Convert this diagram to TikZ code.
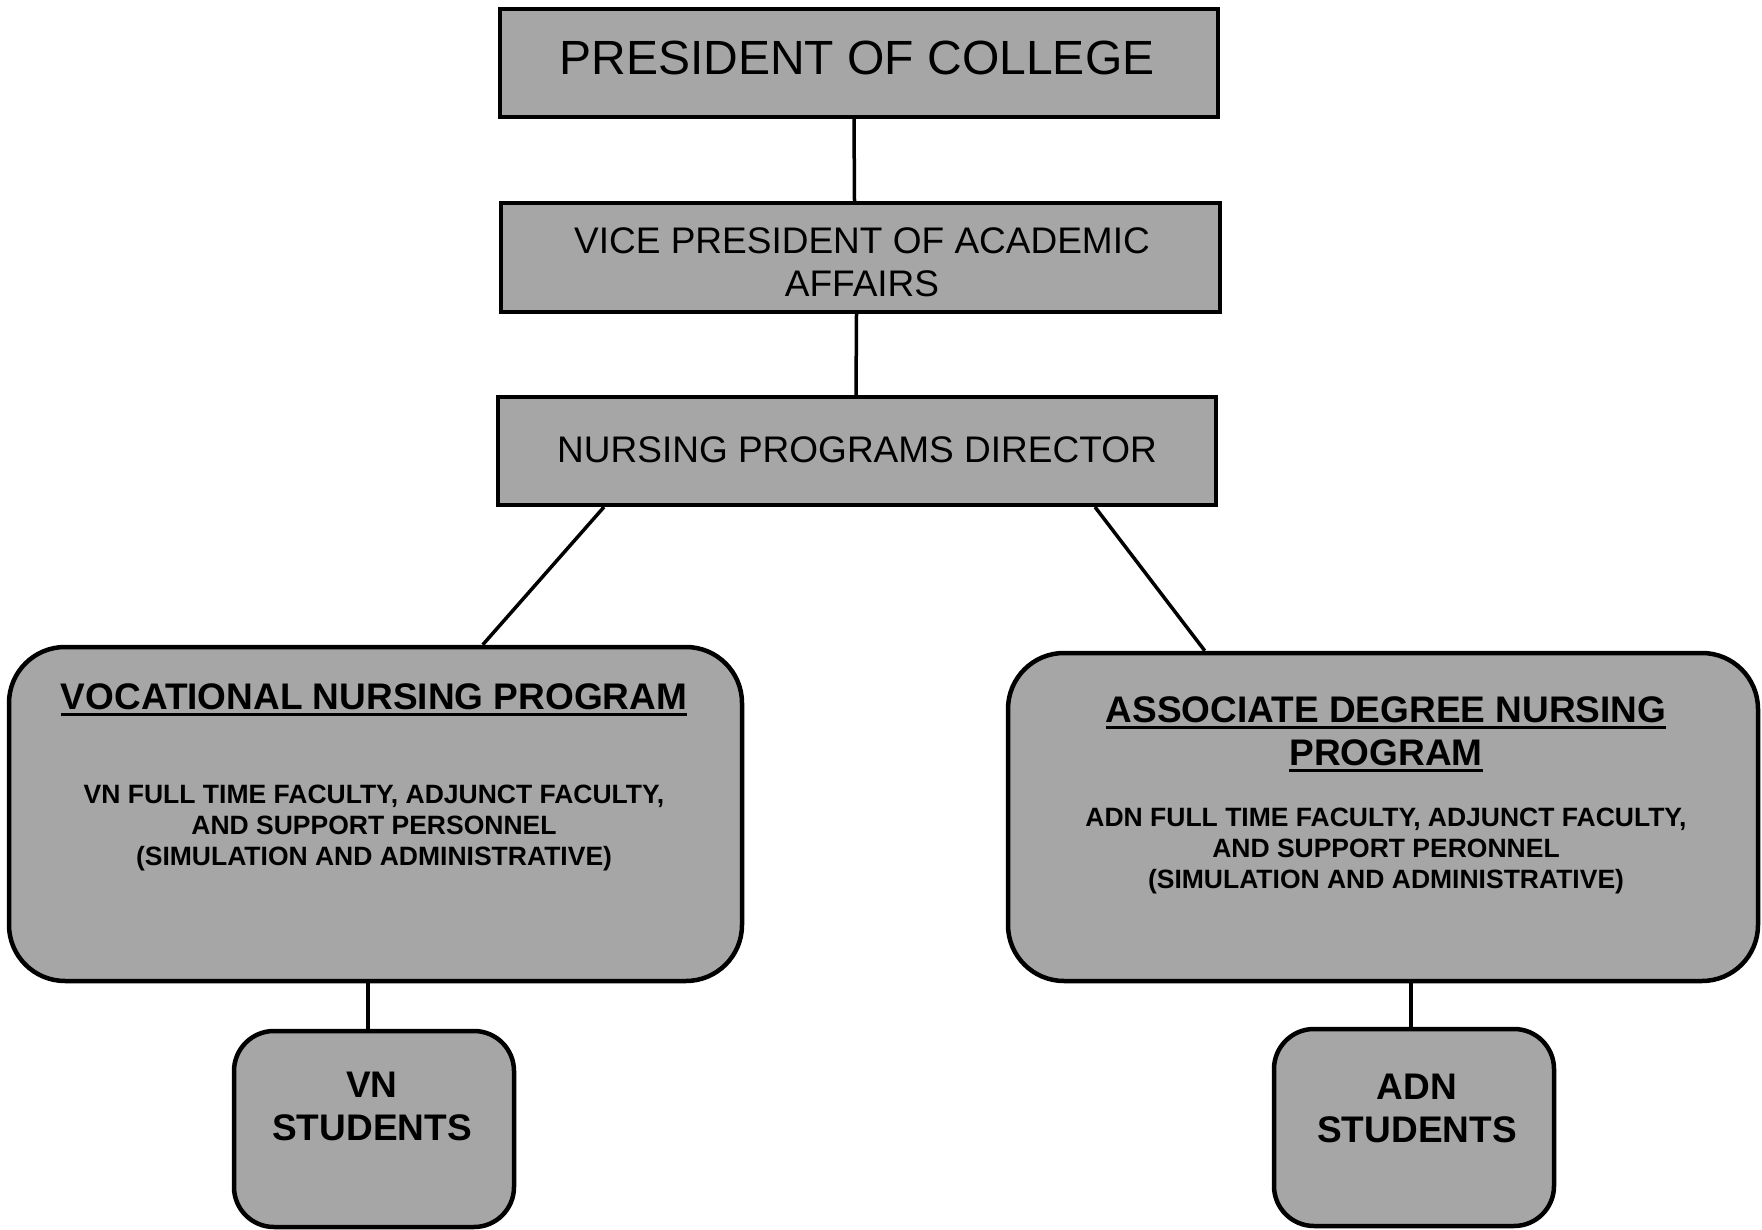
\documentclass[tikz,border=0pt]{standalone}
\usepackage{fontspec}
\setmainfont{Liberation Sans}
\definecolor{boxgray}{RGB}{166,166,166}
\newcommand\myul[1]{\vtop{\hbox{#1}\kern4pt\hrule height 3pt}}
\begin{document}
\begin{tikzpicture}[x=1pt,y=-1pt,
  sqbox/.style={draw=black,fill=boxgray,line width=4pt,rectangle,inner sep=0pt},
  rndbox/.style={draw=black,fill=boxgray,line width=4.5pt,rectangle,rounded corners=56pt,inner sep=0pt},
  smallrnd/.style={rndbox,rounded corners=40pt},
  link/.style={draw=black,line width=3.5pt},
  txtbig/.style={anchor=base,inner sep=0pt,font=\fontsize{48}{55}\selectfont},
  txtmid/.style={anchor=base,inner sep=0pt,font=\fontsize{37}{43}\selectfont},
  txtbold/.style={anchor=base,inner sep=0pt,font=\fontsize{37}{43}\selectfont\bfseries},
  txtsmall/.style={anchor=base,inner sep=0pt,font=\fontsize{26.5}{31}\selectfont\bfseries}]
\useasboundingbox (0,0) rectangle (1762,1230);

% boxes
\node[sqbox,minimum width=718pt,minimum height=108pt] (pres) at (859,63) {};
\node[sqbox,minimum width=719pt,minimum height=109pt] (vp) at (860.5,257.5) {};
\node[sqbox,minimum width=718pt,minimum height=108pt] (dir) at (857,451) {};
\node[rndbox,minimum width=733pt,minimum height=334pt] (vn) at (375.5,814) {};
\node[rndbox,minimum width=750pt,minimum height=328pt] (adn) at (1383,817) {};
\node[smallrnd,minimum width=280pt,minimum height=196pt] (vns) at (374,1129) {};
\node[smallrnd,minimum width=280pt,minimum height=197pt] (adns) at (1414,1127.5) {};

% connectors
\draw[link] ([xshift=-5pt]pres.south) -- ([xshift=-6pt]vp.north);
\draw[link] ([xshift=-4pt]vp.south) -- ([xshift=-1pt]dir.north);
\draw[link] ([xshift=108pt]dir.south west) -- ([xshift=476pt]vn.north west);
\draw[link] ([xshift=599pt]dir.south west) -- ([xshift=199pt]adn.north west);
\draw[link] ([xshift=-6pt]vns.north |- vn.south) -- ([xshift=-6pt]vns.north);
\draw[link] ([xshift=-3pt]adns.north |- adn.south) -- ([xshift=-3pt]adns.north);

% texts
\node[txtbig] (presT) at (857,75) {PRESIDENT OF COLLEGE};
\node[txtmid] (vpT1) at (862,254) {VICE PRESIDENT OF ACADEMIC};
\node[txtmid] (vpT2) at (862,297) {AFFAIRS};
\node[txtmid] (dirT) at (857,462) {NURSING PROGRAMS DIRECTOR};

\node[txtbold] (vnT) at (374,709) {\myul{VOCATIONAL NURSING PROGRAM}};
\node[txtsmall] (vnB1) at (374,803) {VN FULL TIME FACULTY, ADJUNCT FACULTY,};
\node[txtsmall] (vnB2) at (374,834) {AND SUPPORT PERSONNEL};
\node[txtsmall] (vnB3) at (374,865) {(SIMULATION AND ADMINISTRATIVE)};

\node[txtbold] (adnT1) at (1386,722) {\myul{ASSOCIATE DEGREE NURSING}};
\node[txtbold] (adnT2) at (1386,765) {\myul{PROGRAM}};
\node[txtsmall] (adnB1) at (1386,826) {ADN FULL TIME FACULTY, ADJUNCT FACULTY,};
\node[txtsmall] (adnB2) at (1386,857) {AND SUPPORT PERONNEL};
\node[txtsmall] (adnB3) at (1386,888) {(SIMULATION AND ADMINISTRATIVE)};

\node[txtbold] (vnsT1) at (372,1097) {VN};
\node[txtbold] (vnsT2) at (372,1140) {STUDENTS};
\node[txtbold] (adnsT1) at (1417,1099) {ADN};
\node[txtbold] (adnsT2) at (1417,1142) {STUDENTS};
\end{tikzpicture}
\end{document}
